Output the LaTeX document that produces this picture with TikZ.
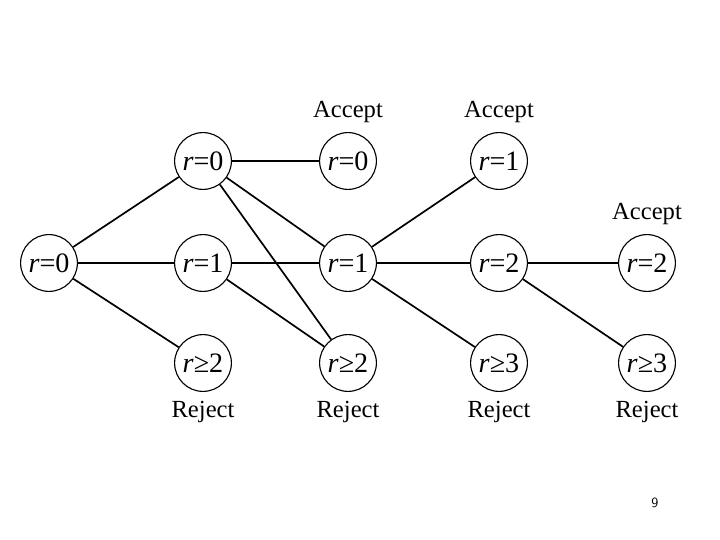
\documentclass[tikz,border=0pt]{standalone}
\usepackage{fontspec}
\setmainfont{Liberation Serif}
\usetikzlibrary{positioning}

\begin{document}
\begin{tikzpicture}[
  st/.style={circle, draw, line width=0.8pt, minimum size=1.42cm, inner sep=0pt,
             font=\fontsize{20}{24}\selectfont},
  edge/.style={line width=1.2pt},
  lbl/.style={font=\fontsize{17.5}{21}\selectfont, inner sep=1pt},
  pagenum/.style={font=\fontsize{10}{12}\selectfont\sffamily},
]
\useasboundingbox (0,0) rectangle (18,13.5);

% start state
\node[st] (a) at (1.225,6.925) {\textit{r}=0};

% first stage
\node[st] (b0) at (5.075,9.475) {\textit{r}=0};
\node[st] (b1) at (5.075,6.925) {\textit{r}=1};
\node[st] (b2) at (5.075,4.425) {\textit{r}≥2};

% second stage
\node[st] (c0) at (8.7,9.475) {\textit{r}=0};
\node[st] (c1) at (8.7,6.925) {\textit{r}=1};
\node[st] (c2) at (8.7,4.425) {\textit{r}≥2};

% third stage
\node[st] (d0) at (12.475,9.475) {\textit{r}=1};
\node[st] (d1) at (12.475,6.925) {\textit{r}=2};
\node[st] (d2) at (12.475,4.425) {\textit{r}≥3};

% fourth stage
\node[st] (e1) at (16.175,6.925) {\textit{r}=2};
\node[st] (e2) at (16.175,4.425) {\textit{r}≥3};

% accept / reject labels
\node[lbl, above=0.2cm of c0] (accc) {Accept};
\node[lbl, above=0.2cm of d0] (accd) {Accept};
\node[lbl, above=0.2cm of e1] (acce) {Accept};
\node[lbl, below=0.2cm of b2] (rejb) {Reject};
\node[lbl, below=0.2cm of c2] (rejc) {Reject};
\node[lbl, below=0.2cm of d2] (rejd) {Reject};
\node[lbl, below=0.2cm of e2] (reje) {Reject};

% transitions
\draw[edge] (a) -- (b0);
\draw[edge] (a) -- (b1);
\draw[edge] (a) -- (b2);
\draw[edge] (b0) -- (c0);
\draw[edge] (b0) -- (c1);
\draw[edge] (b0) -- (c2);
\draw[edge] (b1) -- (c1);
\draw[edge] (b1) -- (c2);
\draw[edge] (c1) -- (d0);
\draw[edge] (c1) -- (d1);
\draw[edge] (c1) -- (d2);
\draw[edge] (d1) -- (e1);
\draw[edge] (d1) -- (e2);

\node[pagenum] (pg) at (16.375,0.925) {9};
\end{tikzpicture}
\end{document}
